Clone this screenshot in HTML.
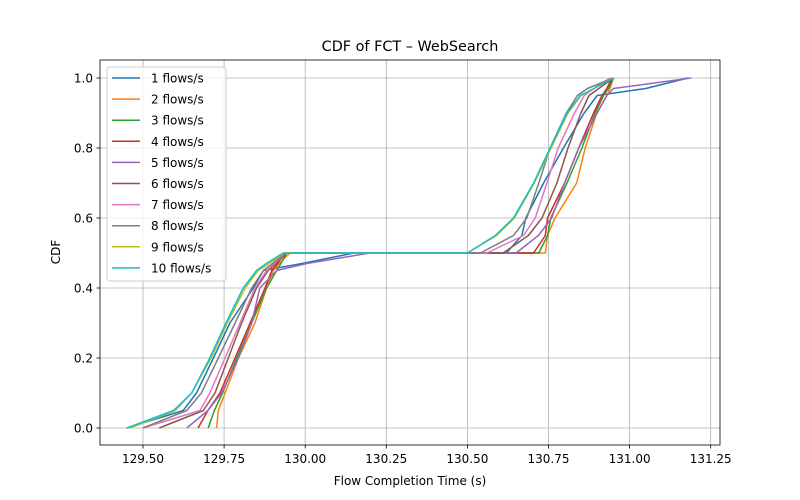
<!DOCTYPE html>
<html><head><meta charset="utf-8"><style>
body{margin:0;background:#fff;}
svg{display:block;font-family:"DejaVu Sans","Liberation Sans",sans-serif;}
</style></head><body>
<svg id="chart" width="800" height="500" viewBox="0 0 800 500">
<rect width="800" height="500" fill="#fff"/>
<g id="grid"></g>
<g id="series"></g>
<rect x="100" y="60" width="620" height="385" fill="none" stroke="#000" stroke-width="0.8"/>
<g id="axes"></g>
<text x="410" y="51" text-anchor="middle" font-size="14.4">CDF of FCT – WebSearch</text>
<text x="410" y="485" text-anchor="middle" font-size="12">Flow Completion Time (s)</text>
<text x="60" y="252" text-anchor="middle" font-size="12" transform="rotate(-90 60 252)">CDF</text>
<g id="legend"></g>
</svg>
<script>
const levels=[0,0.05,0.1,0.2,0.3,0.4,0.45,0.47,0.5,0.5,0.55,0.6,0.7,0.8,0.9,0.95,0.97,1];
const names=["1 flows/s","2 flows/s","3 flows/s","4 flows/s","5 flows/s","6 flows/s","7 flows/s","8 flows/s","9 flows/s","10 flows/s"];
const colors=["#1f77b4","#ff7f0e","#2ca02c","#d62728","#9467bd","#8c564b","#e377c2","#7f7f7f","#bcbd22","#17becf"];
const s1=[129.45,129.624,129.665,129.717,129.768,129.84,129.871,129.99,130.15,130.62,130.668,130.68,130.735,130.796,130.86,130.90,131.05,131.18];
const s2=[129.727,129.732,129.753,129.794,129.845,129.881,129.902,129.92,129.953,130.74,130.747,130.77,130.837,130.863,130.899,130.93,130.94,130.95];
const s3=[129.701,129.72,129.745,129.789,129.835,129.881,129.912,129.925,129.943,130.72,130.747,130.757,130.807,130.853,130.894,130.92,130.935,130.95];
const s4=[129.67,129.70,129.737,129.784,129.83,129.876,129.897,129.915,129.938,130.704,130.74,130.747,130.80,130.843,130.889,130.915,130.93,130.945];
const s5=[129.635,129.70,129.742,129.794,129.835,129.86,129.912,130.005,130.2,130.65,130.719,130.76,130.80,130.843,130.90,130.93,130.95,131.19];
const s6=[129.55,129.686,129.722,129.763,129.804,129.85,129.886,129.91,129.943,130.61,130.688,130.73,130.776,130.81,130.85,130.875,130.905,130.95];
const s7=[129.5,129.676,129.706,129.753,129.799,129.845,129.881,129.905,129.938,130.56,130.673,130.709,130.745,130.78,130.83,130.86,130.89,130.94];
const s8=[129.5,129.635,129.68,129.732,129.784,129.835,129.871,129.9,129.938,130.54,130.642,130.683,130.72,130.755,130.805,130.839,130.87,130.95];
const s9=[129.46,129.60,129.65,129.71,129.76,129.815,129.855,129.89,129.935,130.50,130.59,130.645,130.706,130.758,130.81,130.85,130.89,130.95];
const s10=[129.45,129.594,129.65,129.706,129.756,129.809,129.85,129.88,129.932,130.50,130.586,130.642,130.704,130.755,130.807,130.848,130.89,130.95];
const seriesData=[s1,s2,s3,s4,s5,s6,s7,s8,s9,s10];
const xTicks=[129.5,129.75,130,130.25,130.5,130.75,131,131.25];
const xTickLabels=["129.50","129.75","130.00","130.25","130.50","130.75","131.00","131.25"];
const yTicks=[0,0.2,0.4,0.6,0.8,1.0];
const yTickLabels=["0.0","0.2","0.4","0.6","0.8","1.0"];
const NS="http://www.w3.org/2000/svg";
function X(v){return 143+(v-129.5)*324.4;}
function Y(v){return 428-v*350;}
function mk(tag,attrs,parent){const e=document.createElementNS(NS,tag);for(const k in attrs)e.setAttribute(k,attrs[k]);parent.appendChild(e);return e;}
const grid=document.getElementById('grid'),axes=document.getElementById('axes');
xTicks.forEach((t,i)=>{
  const g=mk('line',{x1:X(t),x2:X(t),y1:60,y2:445,stroke:'#b0b0b0','stroke-width':0.8},grid);
  
  
  mk('line',{x1:X(t),x2:X(t),y1:445,y2:448.5,stroke:'#000','stroke-width':0.8},axes);
  const tx=mk('text',{x:X(t),y:463,'text-anchor':'middle','font-size':12},axes);
  tx.textContent=xTickLabels[i];
  
  
});
yTicks.forEach((t,i)=>{
  const g=mk('line',{x1:100,x2:720,y1:Y(t),y2:Y(t),stroke:'#b0b0b0','stroke-width':0.8},grid);
  
  
  mk('line',{x1:96.5,x2:100,y1:Y(t),y2:Y(t),stroke:'#000','stroke-width':0.8},axes);
  const tx=mk('text',{x:93,y:Y(t)+4.5,'text-anchor':'end','font-size':12},axes);
  tx.textContent=yTickLabels[i];
  
  
});
const sg=document.getElementById('series');
seriesData.forEach((d,i)=>{
  const pts=d.map((v,j)=>X(v).toFixed(1)+','+Y(levels[j]).toFixed(1)).join(' ');
  const p=mk('polyline',{points:pts,fill:'none',stroke:colors[i],'stroke-width':1.5,'stroke-linejoin':'round'},sg);
  
  
});
const lg=document.getElementById('legend');
const box=mk('rect',{x:107,y:67,width:119,height:214,rx:3,fill:'#fff','fill-opacity':0.8,stroke:'#ccc'},lg);


names.forEach((n,i)=>{
  const y=78+i*21.1;
  const g=mk('g',{},lg);
  
  
  mk('line',{x1:112,x2:140,y1:y,y2:y,stroke:colors[i],'stroke-width':1.5},g);
  const t=mk('text',{x:151,y:y+4.5,'font-size':12},g);
  t.textContent=n;
});
</script>
</body></html>
